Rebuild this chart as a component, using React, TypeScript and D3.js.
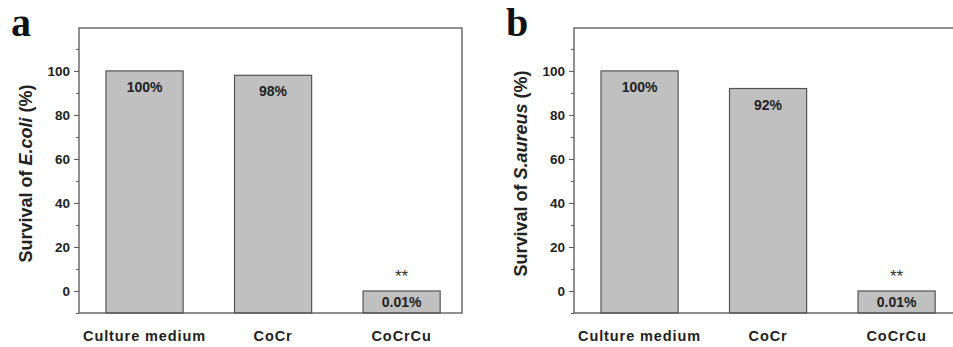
import React, { useEffect, useRef } from 'react';
import * as d3 from 'd3';

// Two side-by-side bar panels (E.coli / S.aureus survival), Origin-style frames.

const categories = ['Culture medium', 'CoCr', 'CoCrCu'];
const ecoliSurvival = [100, 98, 0.01];
const saureusSurvival = [100, 92, 0.01];
const ecoliLabels = ['100%', '98%', '0.01%'];
const saureusLabels = ['100%', '92%', '0.01%'];
const significance = ['', '', '**'];
const majorTicks = [0, 20, 40, 60, 80, 100];
const minorTicks = [-10, 10, 30, 50, 70, 90, 110];

const W = 953;
const H = 347;
const FRAME_W = 383;
const TOP = 28;
const BOTTOM = 313;
const FONT = '"Liberation Sans", Arial, sans-serif';
const INK = '#555';

type PanelProps = {
  left: number;
  letter: string;
  organism: string;
  values: number[];
  labels: string[];
};

function Panel({ left, letter, organism, values, labels }: PanelProps) {
  const axisRef = useRef<SVGGElement>(null);
  const minorRef = useRef<SVGGElement>(null);

  const y = d3.scaleLinear().domain([-10, 119.5]).range([BOTTOM, TOP]);
  const x = d3.scaleLinear().domain([-0.51, 2.47]).range([left, left + FRAME_W]);
  const barW = x(0.6) - x(0);

  useEffect(() => {
    const major = d3.axisLeft(y).tickValues(majorTicks).tickSize(5).tickPadding(4);
    const g = d3.select(axisRef.current!);
    g.call(major);
    g.select('.domain').remove();
    g.selectAll('line').attr('stroke', INK).attr('stroke-width', 1);
    g.selectAll('text')
      .attr('font-family', FONT)
      .attr('font-weight', 'bold')
      .attr('font-size', 13.5)
      .attr('fill', '#222');

    const minor = d3.axisLeft(y).tickValues(minorTicks).tickSize(3).tickFormat(() => '');
    const m = d3.select(minorRef.current!);
    m.call(minor);
    m.select('.domain').remove();
    m.selectAll('line').attr('stroke', INK).attr('stroke-width', 1);
  }, []);

  return (
    <g>
      <text
        x={left - 68}
        y={36}
        fontFamily='"Liberation Serif", "Times New Roman", serif'
        fontWeight="bold"
        fontSize={40}
        fill="#111"
      >
        {letter}
      </text>

      {values.map((v, i) => {
        const yTop = y(v);
        const yBase = y(-10);
        const cx = x(i);
        const labelY = Math.min(yTop + 21, (yTop + yBase) / 2 + 5);
        return (
          <g key={categories[i]}>
            <rect
              x={cx - barW / 2}
              y={yTop}
              width={barW}
              height={yBase - yTop}
              fill="#c0c0c0"
              stroke={INK}
              strokeWidth={1.2}
            />
            <text
              x={cx}
              y={labelY}
              textAnchor="middle"
              fontFamily={FONT}
              fontWeight="bold"
              fontSize={14}
              fill="#222"
            >
              {labels[i]}
            </text>
            {significance[i] && (
              <text
                x={cx}
                y={yTop - 9}
                textAnchor="middle"
                fontFamily={FONT}
                fontSize={17}
                fill="#333"
              >
                {significance[i]}
              </text>
            )}
            <text
              x={cx}
              y={341}
              textAnchor="middle"
              fontFamily={FONT}
              fontWeight="bold"
              fontSize={14.5}
              letterSpacing={0.9}
              fill="#222"
            >
              {categories[i]}
            </text>
          </g>
        );
      })}

      <rect
        x={left}
        y={TOP}
        width={FRAME_W}
        height={BOTTOM - TOP}
        fill="none"
        stroke={INK}
        strokeWidth={1.3}
      />
      <g ref={axisRef} transform={`translate(${left},0)`} />
      <g ref={minorRef} transform={`translate(${left},0)`} />

      <text
        transform={`translate(${left - 47},${(TOP + BOTTOM) / 2 + 3}) rotate(-90)`}
        textAnchor="middle"
        fontFamily={FONT}
        fontWeight="bold"
        fontSize={18}
        fill="#222"
      >
        <tspan fontWeight="bold">Survival of </tspan>
        <tspan fontWeight="bold" fontStyle="italic">{organism}</tspan>
        <tspan fontWeight="bold"> (%)</tspan>
      </text>
    </g>
  );
}

export default function App() {
  return (
    <svg
      width={W}
      height={H}
      viewBox={`0 0 ${W} ${H}`}
      style={{ position: 'absolute', left: 0, top: 0, background: '#fff' }}
    >
      <rect width={W} height={H} fill="#fff" />
      <Panel left={79} letter="a" organism="E.coli" values={ecoliSurvival} labels={ecoliLabels} />
      <Panel left={574} letter="b" organism="S.aureus" values={saureusSurvival} labels={saureusLabels} />
    </svg>
  );
}
